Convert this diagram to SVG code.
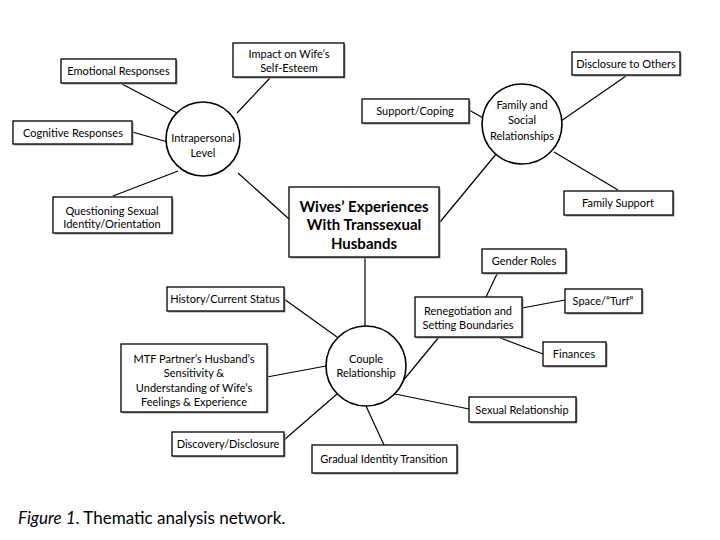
<svg xmlns="http://www.w3.org/2000/svg" width="720" height="540" viewBox="0 0 720 540">
<style>
.b{fill:#fff;stroke:#000;stroke-width:1.3}
.s{fill:#9a9a9a;stroke:none}
.c{fill:#fff;stroke:#000;stroke-width:1.6}
.t{font-family:Lato,"Open Sans",sans-serif;font-size:11px;fill:#000;text-anchor:middle}
.m{font-family:Lato,"Open Sans",sans-serif;font-size:15px;font-weight:bold;fill:#000;text-anchor:middle}
.l{stroke:#000;stroke-width:1.2;fill:none}
</style>
<rect width="720" height="540" fill="#fff"/>
<g id="connectors">
<line class="l" x1="122" y1="84" x2="179" y2="114"/>
<line class="l" x1="237" y1="113" x2="270" y2="78"/>
<line class="l" x1="132" y1="132" x2="168" y2="142"/>
<line class="l" x1="113" y1="196" x2="178" y2="171"/>
<line class="l" x1="238" y1="173" x2="289" y2="219"/>
<line class="l" x1="626" y1="76" x2="561" y2="121"/>
<line class="l" x1="469" y1="110" x2="485" y2="119"/>
<line class="l" x1="554" y1="152" x2="618" y2="190"/>
<line class="l" x1="497" y1="153" x2="440" y2="222"/>
<line class="l" x1="365" y1="257" x2="365" y2="326"/>
<line class="l" x1="284" y1="299" x2="337" y2="337"/>
<line class="l" x1="267" y1="377" x2="326" y2="366"/>
<line class="l" x1="284" y1="440" x2="337" y2="394"/>
<line class="l" x1="384" y1="445" x2="366" y2="406"/>
<line class="l" x1="395" y1="394" x2="469" y2="409"/>
<line class="l" x1="402" y1="382" x2="439" y2="337"/>
<line class="l" x1="497" y1="274" x2="486" y2="297"/>
<line class="l" x1="522" y1="308" x2="565" y2="300"/>
<line class="l" x1="498" y1="337" x2="543" y2="354"/>
</g>
<g id="emotional"><rect class="s" x="62.5" y="60.5" width="115" height="24"/><rect class="b" x="61" y="59" width="115" height="24"/><text class="t" x="118.5" y="75">Emotional Responses</text></g>
<g id="impact"><rect class="s" x="234.5" y="44.5" width="111" height="34"/><rect class="b" x="233" y="43" width="111" height="34"/><text class="t" x="289" y="58">Impact on Wife’s</text><text class="t" x="289" y="72">Self-Esteem</text></g>
<g id="cognitive"><rect class="s" x="14.5" y="122.5" width="119" height="23"/><rect class="b" x="13" y="121" width="119" height="23"/><text class="t" x="73" y="137">Cognitive Responses</text></g>
<g id="questioning"><rect class="s" x="54.5" y="198.5" width="119" height="36"/><rect class="b" x="53" y="197" width="119" height="36"/><text class="t" x="112" y="215">Questioning Sexual</text><text class="t" x="112" y="228">Identity/Orientation</text></g>
<g id="intrapersonal"><circle class="c" cx="203" cy="139" r="37"/><text class="t" x="203" y="142">Intrapersonal</text><text class="t" x="203" y="157">Level</text></g>
<g id="main"><rect class="s" x="290.5" y="188.5" width="150" height="70"/><rect class="b" x="289" y="187" width="150" height="70"/><text class="m" x="364" y="212">Wives’ Experiences</text><text class="m" x="364" y="230">With Transsexual</text><text class="m" x="364" y="249">Husbands</text></g>
<g id="support"><rect class="s" x="363.5" y="100.5" width="107" height="24"/><rect class="b" x="362" y="99" width="107" height="24"/><text class="t" x="415" y="115">Support/Coping</text></g>
<g id="disclosure"><rect class="s" x="573.5" y="53.5" width="108" height="23"/><rect class="b" x="572" y="52" width="108" height="23"/><text class="t" x="626" y="68">Disclosure to Others</text></g>
<g id="family"><circle class="c" cx="522" cy="124" r="40"/><text class="t" x="522" y="109">Family and</text><text class="t" x="522" y="124">Social</text><text class="t" x="522" y="140">Relationships</text></g>
<g id="familysupport"><rect class="s" x="565.5" y="192.5" width="109" height="24"/><rect class="b" x="564" y="191" width="109" height="24"/><text class="t" x="618" y="207">Family Support</text></g>
<g id="history"><rect class="s" x="168.5" y="288.5" width="117" height="24"/><rect class="b" x="167" y="287" width="117" height="24"/><text class="t" x="225" y="303">History/Current Status</text></g>
<g id="mtf"><rect class="s" x="122.5" y="345.5" width="146" height="68"/><rect class="b" x="121" y="344" width="146" height="68"/><text class="t" x="194" y="363">MTF Partner’s Husband’s</text><text class="t" x="194" y="377">Sensitivity &amp;</text><text class="t" x="194" y="392">Understanding of Wife’s</text><text class="t" x="194" y="406">Feelings &amp; Experience</text></g>
<g id="couple"><circle class="c" cx="366" cy="366" r="40"/><text class="t" x="366" y="363">Couple</text><text class="t" x="366" y="377">Relationship</text></g>
<g id="discovery"><rect class="s" x="173.5" y="433.5" width="112" height="24"/><rect class="b" x="172" y="432" width="112" height="24"/><text class="t" x="228" y="448">Discovery/Disclosure</text></g>
<g id="gradual"><rect class="s" x="313.5" y="446.5" width="145" height="28"/><rect class="b" x="312" y="445" width="145" height="28"/><text class="t" x="384" y="463">Gradual Identity Transition</text></g>
<g id="sexual"><rect class="s" x="470.5" y="398.5" width="107" height="25"/><rect class="b" x="469" y="397" width="107" height="25"/><text class="t" x="522" y="414">Sexual Relationship</text></g>
<g id="renegotiation"><rect class="s" x="416.5" y="298.5" width="107" height="40"/><rect class="b" x="415" y="297" width="107" height="40"/><text class="t" x="468" y="315">Renegotiation and</text><text class="t" x="468" y="329">Setting Boundaries</text></g>
<g id="gender"><rect class="s" x="483.5" y="250.5" width="84" height="24"/><rect class="b" x="482" y="249" width="84" height="24"/><text class="t" x="524" y="265">Gender Roles</text></g>
<g id="space"><rect class="s" x="566.5" y="290.5" width="77" height="24"/><rect class="b" x="565" y="289" width="77" height="24"/><text class="t" x="603" y="305">Space/“Turf”</text></g>
<g id="finances"><rect class="s" x="544.5" y="343.5" width="63" height="24"/><rect class="b" x="543" y="342" width="63" height="24"/><text class="t" x="574" y="358">Finances</text></g>
<text x="18" y="524" style="font-family:Lato,'Open Sans',sans-serif;font-size:17px;fill:#000"><tspan font-style="italic">Figure 1</tspan>. Thematic analysis network.</text>
</svg>
